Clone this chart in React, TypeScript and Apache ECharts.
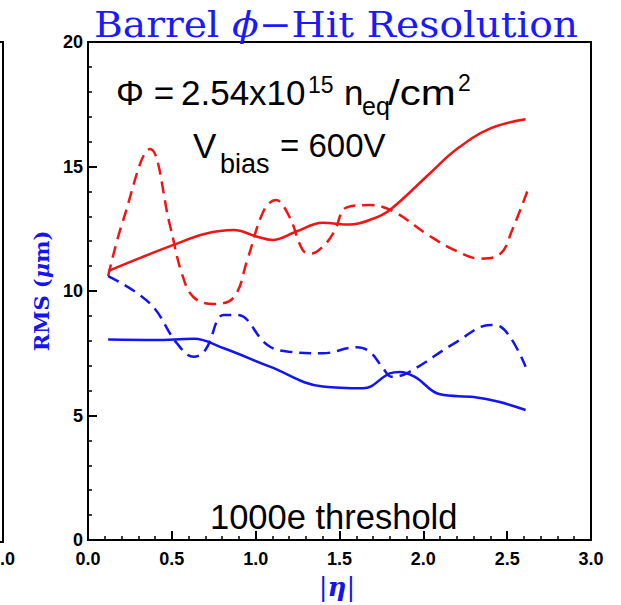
import React, { useEffect, useRef } from "react";
import * as echarts from "echarts";

// |eta| vs RMS (um)
const redSolid: number[][] = [
  [0.12, 10.8], [0.3, 11.3], [0.51, 11.85], [0.7, 12.3], [0.87, 12.45], [1.0, 12.2],
  [1.1, 12.05], [1.24, 12.38], [1.4, 12.74], [1.56, 12.67], [1.7, 12.9], [1.8, 13.25],
  [2.04, 14.73], [2.2, 15.7], [2.4, 16.53], [2.61, 16.9],
];
const redDashed: number[][] = [
  [0.12, 10.6], [0.21, 12.85], [0.37, 15.7], [0.49, 12.6], [0.56, 10.7], [0.63, 9.75],
  [0.75, 9.48], [0.87, 9.75], [0.95, 11.25], [1.05, 13.25], [1.12, 13.65], [1.2, 13.0],
  [1.28, 11.65], [1.33, 11.5], [1.4, 11.78], [1.47, 12.4], [1.54, 13.35], [1.68, 13.45],
  [1.82, 13.2], [2.04, 12.2], [2.2, 11.6], [2.34, 11.3], [2.46, 11.5], [2.53, 12.45],
  [2.62, 14.0],
];
const blueSolid: number[][] = [
  [0.12, 8.05], [0.4, 8.03], [0.63, 8.08], [0.81, 7.7], [1.085, 6.96], [1.4, 6.16],
  [1.64, 6.09], [1.8, 6.69], [1.86, 6.75], [1.95, 6.55], [2.1, 5.85], [2.3, 5.74],
  [2.45, 5.55], [2.61, 5.22],
];
const blueDashed: number[][] = [
  [0.12, 10.6], [0.37, 9.5], [0.53, 7.9], [0.63, 7.36], [0.7, 7.63], [0.81, 9.04],
  [0.89, 9.04], [1.07, 7.83], [1.2, 7.56], [1.4, 7.5], [1.6, 7.74], [1.68, 7.56],
  [1.76, 6.9], [1.81, 6.56], [1.9, 6.69], [2.2, 7.96], [2.4, 8.63], [2.46, 8.57],
  [2.61, 6.96],
];

const RED = "#f01414";
const BLUE = "#1414f0";
const TITLE_BLUE = "#1a1aff";
const SANS = '"Liberation Sans", Arial, sans-serif';
const SERIF = '"DejaVu Serif", serif';

function txt(x: number, y: number, text: string, size: number, extra: any = {}, el: any = {}) {
  return {
    type: "text",
    x,
    y,
    silent: true,
    ...el,
    style: {
      text,
      fontSize: size,
      fontFamily: SANS,
      fill: "#000",
      align: "left",
      verticalAlign: "middle",
      textAlign: "left",
      textVerticalAlign: "middle",
      ...extra,
    },
  };
}

export default function App() {
  const ref = useRef<HTMLDivElement>(null);
  useEffect(() => {
    document.body.style.margin = "0";
    const chart = echarts.init(ref.current!, null, { renderer: "svg" });
    const lineSeries = (data: number[][], color: string, dashed: boolean) => ({
      type: "line",
      data,
      smooth: 0.4,
      showSymbol: false,
      symbol: "none",
      lineStyle: { color, width: 2.5, type: dashed ? [12, 7] : "solid" },
      z: 3,
    });
    const labelStyle = {
      color: "#000",
      fontFamily: SANS,
      fontWeight: "bold",
      fontSize: 18,
    };
    chart.setOption({
      animation: false,
      backgroundColor: "#fff",
      grid: {
        left: 88,
        top: 42,
        width: 503,
        height: 498,
        show: true,
        borderColor: "#000",
        borderWidth: 2,
        backgroundColor: "transparent",
      },
      xAxis: {
        type: "value",
        min: 0,
        max: 3,
        interval: 0.5,
        axisLine: { show: true, lineStyle: { color: "#000", width: 2 } },
        axisTick: { show: true, inside: true, length: 9, lineStyle: { color: "#000", width: 2 } },
        minorTick: { show: true, splitNumber: 5, length: 4, lineStyle: { color: "#000", width: 1.5 } },
        splitLine: { show: false },
        axisLabel: { ...labelStyle, margin: 10, formatter: (v: number) => v.toFixed(1) },
      },
      yAxis: {
        type: "value",
        min: 0,
        max: 20,
        interval: 5,
        axisLine: { show: true, lineStyle: { color: "#000", width: 2 } },
        axisTick: { show: true, inside: true, length: 9, lineStyle: { color: "#000", width: 2 } },
        minorTick: { show: true, splitNumber: 5, length: 4, lineStyle: { color: "#000", width: 1.5 } },
        splitLine: { show: false },
        axisLabel: { ...labelStyle, margin: 5 },
      },
      series: [
        lineSeries(redSolid, RED, false),
        lineSeries(redDashed, RED, true),
        lineSeries(blueSolid, BLUE, false),
        lineSeries(blueDashed, BLUE, true),
      ],
      graphic: [
        // neighbouring panel edge at the far left
        {
          type: "polyline",
          silent: true,
          shape: { points: [[0, 42], [3, 42], [3, 542], [0, 542]] },
          style: { stroke: "#000", lineWidth: 2, fill: null },
        },
        txt(0, 559, ".0", 18, { fontWeight: "bold" }),
        // title
        {
          type: "text",
          x: 336,
          y: 25,
          scaleX: 1.09,
          silent: true,
          style: {
            text: "{a|Barrel }{b|ϕ}{a|−Hit Resolution}",
            align: "center",
            verticalAlign: "middle",
            textAlign: "center",
            textVerticalAlign: "middle",
            fill: TITLE_BLUE,
            rich: {
              a: { fontFamily: SERIF, fontSize: 36, fill: TITLE_BLUE, color: TITLE_BLUE },
              b: { fontFamily: SERIF, fontSize: 36, fontStyle: "italic", fill: TITLE_BLUE, color: TITLE_BLUE },
            },
          },
        },
        // y axis name
        {
          type: "text",
          x: 41,
          y: 291,
          rotation: Math.PI / 2,
          silent: true,
          style: {
            text: "{a|RMS (}{b|μ}{a|m)}",
            align: "center",
            verticalAlign: "middle",
            textAlign: "center",
            textVerticalAlign: "middle",
            fill: BLUE,
            rich: {
              a: { fontFamily: SERIF, fontSize: 21, fontWeight: "bold", fill: BLUE, color: BLUE },
              b: { fontFamily: SERIF, fontSize: 21, fontWeight: "bold", fontStyle: "italic", fill: BLUE, color: BLUE },
            },
          },
        },
        // x axis name
        {
          type: "text",
          x: 337,
          y: 587,
          silent: true,
          style: {
            text: "{a||}{b|η}{a||}",
            align: "center",
            verticalAlign: "middle",
            textAlign: "center",
            textVerticalAlign: "middle",
            fill: BLUE,
            rich: {
              a: { fontFamily: SERIF, fontSize: 26, fill: BLUE, color: BLUE },
              b: { fontFamily: SERIF, fontSize: 26, fontStyle: "italic", fontWeight: "bold", fill: BLUE, color: BLUE },
            },
          },
        },
        // annotations
        txt(116, 92.5, "Φ =", 35),
        txt(181, 92.5, "2.54x10", 35),
        txt(308, 84.5, "15", 23),
        txt(344, 92.5, "n", 35),
        txt(362, 106, "eq", 25),
        txt(388, 92.5, "/cm", 35, {}, { scaleX: 1.2 }),
        txt(458, 83, "2", 23),
        txt(193, 145, "V", 35),
        txt(220, 164, "bias", 27),
        txt(280, 145, "= 600V", 33),
        txt(210, 517, "1000e threshold", 34.5),
      ],
    });
    return () => chart.dispose();
  }, []);
  return <div ref={ref} style={{ width: 621, height: 605 }} />;
}
